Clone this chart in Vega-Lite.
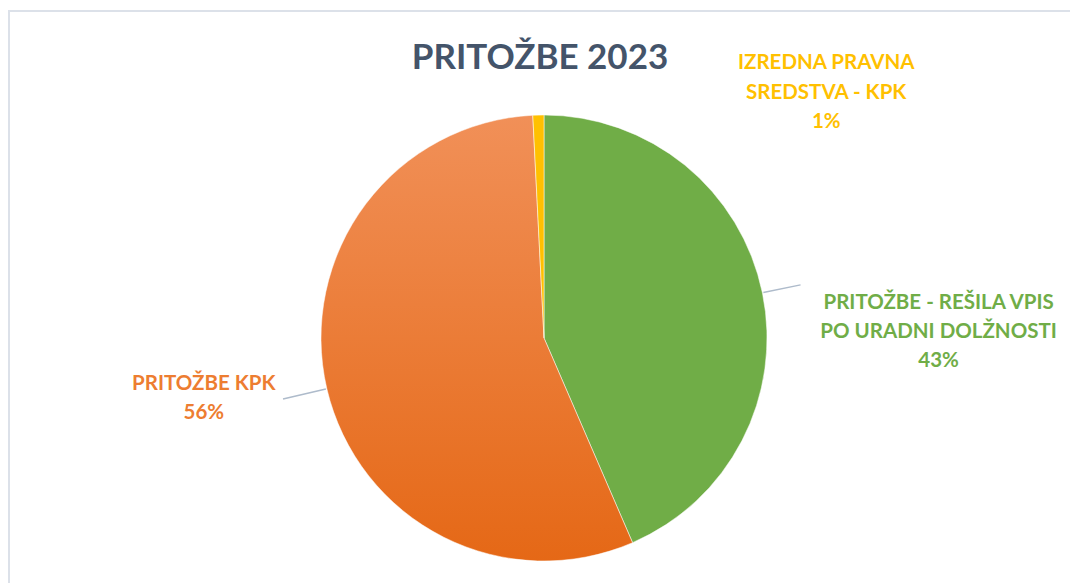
{
  "$schema": "https://vega.github.io/schema/vega-lite/v6.json",
  "width": 1070,
  "height": 583,
  "autosize": {"type": "fit", "contains": "padding"},
  "padding": {"left": 8, "top": 10, "right": -10, "bottom": -83},
  "background": "white",
  "title": {
    "text": "PRITOŽBE 2023",
    "anchor": "middle",
    "frame": "group",
    "orient": "top",
    "offset": -60,
    "dy": 34,
    "baseline": "alphabetic",
    "fontSize": 35,
    "font": "Lato",
    "fontWeight": "bold",
    "color": "#44546A",
    "dx": -4
  },
  "config": {"view": {"stroke": null}},
  "data": {
    "values": [
      {"kategorija": "PRITOŽBE - REŠILA VPIS PO URADNI DOLŽNOSTI", "delez": 43.5, "vrstni_red": 1, "oznaka": "PRITOŽBE - REŠILA VPIS\nPO URADNI DOLŽNOSTI\n43%"},
      {"kategorija": "PRITOŽBE KPK", "delez": 55.7, "vrstni_red": 2, "oznaka": "PRITOŽBE KPK\n56%"},
      {"kategorija": "IZREDNA PRAVNA SREDSTVA - KPK", "delez": 0.8, "vrstni_red": 3, "oznaka": "IZREDNA PRAVNA\nSREDSTVA - KPK\n1%"}
    ]
  },
  "transform": [
    {"stack": "delez", "groupby": [], "sort": [{"field": "vrstni_red"}], "as": ["t0", "t1"]},
    {"calculate": "(datum.t0 + datum.t1) / 2", "as": "t_mid"}
  ],
  "layer": [
    {
      "transform": [{"filter": "datum.vrstni_red == 1"}],
      "mark": {"type": "rect", "fill": null, "filled": false, "stroke": "#DCE1E9", "strokeWidth": 2},
      "encoding": {}
    },
    {
      "transform": [{"filter": "datum.vrstni_red == 1"}],
      "mark": {"type": "arc", "outerRadius": 223, "color": "#70AD47", "stroke": "white", "strokeWidth": 0.5},
      "encoding": {
        "theta": {"field": "t0", "type": "quantitative", "stack": null, "scale": {"domain": [0, 100]}},
        "theta2": {"field": "t1"}
      }
    },
    {
      "transform": [{"filter": "datum.vrstni_red == 2"}],
      "mark": {
        "type": "arc",
        "outerRadius": 223,
        "stroke": "white",
        "strokeWidth": 0.5,
        "fill": {
          "gradient": "linear",
          "x1": 0, "y1": 0, "x2": 0, "y2": 1,
          "stops": [
            {"offset": 0, "color": "#F19058"},
            {"offset": 1, "color": "#E56816"}
          ]
        }
      },
      "encoding": {
        "theta": {"field": "t0", "type": "quantitative", "stack": null, "scale": {"domain": [0, 100]}},
        "theta2": {"field": "t1"}
      }
    },
    {
      "transform": [{"filter": "datum.vrstni_red == 3"}],
      "mark": {"type": "arc", "outerRadius": 223, "color": "#FFC000", "stroke": "white", "strokeWidth": 0.5},
      "encoding": {
        "theta": {"field": "t0", "type": "quantitative", "stack": null, "scale": {"domain": [0, 100]}},
        "theta2": {"field": "t1"}
      }
    },
    {
      "transform": [{"filter": "datum.vrstni_red == 1"}],
      "mark": {"type": "arc", "outerRadius": 262, "innerRadius": 224, "filled": false, "stroke": "#AEBBCB", "strokeWidth": 1.5},
      "encoding": {
        "theta": {"field": "t_mid", "type": "quantitative", "stack": null, "scale": {"domain": [0, 100]}},
        "theta2": {"field": "t_mid"}
      }
    },
    {
      "transform": [{"filter": "datum.vrstni_red == 2"}],
      "mark": {"type": "arc", "outerRadius": 268, "innerRadius": 224, "filled": false, "stroke": "#AEBBCB", "strokeWidth": 1.5},
      "encoding": {
        "theta": {"field": "t_mid", "type": "quantitative", "stack": null, "scale": {"domain": [0, 100]}},
        "theta2": {"field": "t_mid"}
      }
    },
    {
      "transform": [{"filter": "datum.vrstni_red == 1"}],
      "mark": {"type": "text", "radius": 260, "dx": 140, "dy": 18, "align": "center", "baseline": "middle", "lineBreak": "\n", "lineHeight": 29, "font": "Lato", "fontWeight": "bold", "fontSize": 20.5, "color": "#70AD47"},
      "encoding": {
        "theta": {"field": "t_mid", "type": "quantitative", "stack": null, "scale": {"domain": [0, 100]}},
        "text": {"field": "oznaka", "type": "nominal"}
      }
    },
    {
      "transform": [{"filter": "datum.vrstni_red == 2"}],
      "mark": {"type": "text", "radius": 260, "dx": -87, "dy": -13, "align": "center", "baseline": "middle", "lineBreak": "\n", "lineHeight": 29, "font": "Lato", "fontWeight": "bold", "fontSize": 20.5, "color": "#ED7D31"},
      "encoding": {
        "theta": {"field": "t_mid", "type": "quantitative", "stack": null, "scale": {"domain": [0, 100]}},
        "text": {"field": "oznaka", "type": "nominal"}
      }
    },
    {
      "transform": [{"filter": "datum.vrstni_red == 3"}],
      "mark": {"type": "text", "radius": 230, "dx": 288, "dy": -45, "align": "center", "baseline": "middle", "lineBreak": "\n", "lineHeight": 29.5, "font": "Lato", "fontWeight": "bold", "fontSize": 20.5, "color": "#FFC000"},
      "encoding": {
        "theta": {"field": "t_mid", "type": "quantitative", "stack": null, "scale": {"domain": [0, 100]}},
        "text": {"field": "oznaka", "type": "nominal"}
      }
    }
  ]
}
